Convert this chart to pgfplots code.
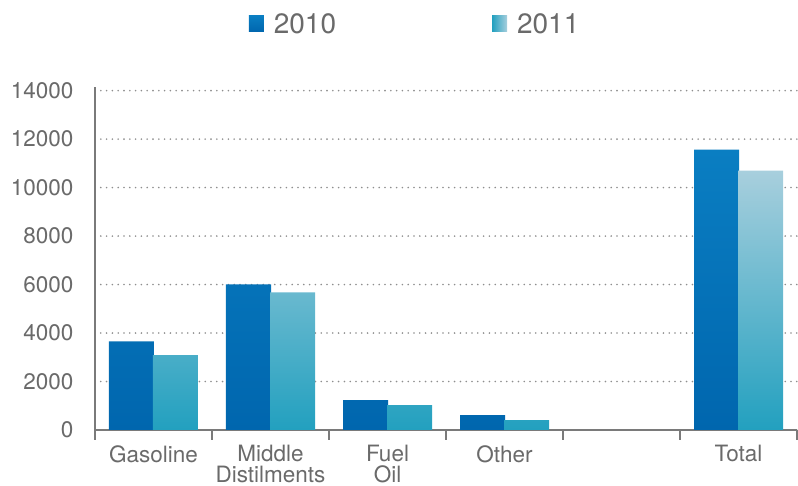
\documentclass[border=0pt]{standalone}
\usepackage{fontspec}
\setmainfont{TeX Gyre Heros}
\usepackage{pgfplots}
\pgfplotsset{compat=1.18}
\definecolor{dkA}{HTML}{0A7EC2}
\definecolor{dkB}{HTML}{0066AE}
\definecolor{ltA}{HTML}{A8CFDD}
\definecolor{ltB}{HTML}{22A0BF}
\definecolor{txt}{HTML}{6A6A6A}
\definecolor{axc}{HTML}{7A7A7A}
\definecolor{grd}{HTML}{8E8E8E}

\begin{document}
\begin{tikzpicture}
\useasboundingbox (-95pt,-56pt) rectangle (703pt,430pt);
\begin{axis}[
  scale only axis, width=702pt, height=343pt,
  xmin=-0.5, xmax=5.5, ymin=0, ymax=14150,
  axis x line=bottom, axis y line=left,
  axis line style={-, axc, line width=2.5pt},
  ytick={0,2000,...,14000},
  scaled y ticks=false,
  ymajorgrids,
  grid style={grd, line width=1.8pt, line cap=round, dash pattern=on 0pt off 5.8pt},
  xtick={0,...,5},
  xticklabels={Gasoline, Middle\\Distilments, Fuel\\Oil, Other, {}, Total},
  minor xtick={-0.5,0.5,...,5.5},
  major tick length=0pt, minor tick length=10pt,
  tick align=outside,
  tick style={axc, line width=2.5pt},
  /pgf/number format/assume math mode=true,
  /pgf/number format/1000 sep={},
  tick label style={font=\fontsize{22.5}{21}\selectfont, text=txt},
  xticklabel style={align=center, yshift=-12pt},
  yticklabel style={xshift=-18pt},
  legend style={at={(0.456,1.184)}, anchor=center, draw=none, fill=none,
    legend columns=2, font=\fontsize{28}{28}\selectfont, text=txt,
    /tikz/every odd column/.append style={column sep=8pt},
    /tikz/every even column/.append style={column sep=154pt}},
]
\addplot[ybar, bar width=45pt, bar shift=-22pt, draw=none, top color=dkA, bottom color=dkB,
  legend image code/.code={\fill[dkA] (0pt,-8pt) rectangle (15pt,8pt);}]
  coordinates {(0,3660) (1,6010) (2,1235) (3,617) (5,11570)};
\addplot[ybar, bar width=45pt, bar shift=22pt, draw=none, top color=ltA, bottom color=ltB,
  legend image code/.code={\fill[left color=ltB, right color=ltA] (0pt,-8pt) rectangle (15pt,8pt);}]
  coordinates {(0,3090) (1,5680) (2,1030) (3,412) (5,10700)};
\legend{2010, 2011}
\end{axis}
\end{tikzpicture}
\end{document}
